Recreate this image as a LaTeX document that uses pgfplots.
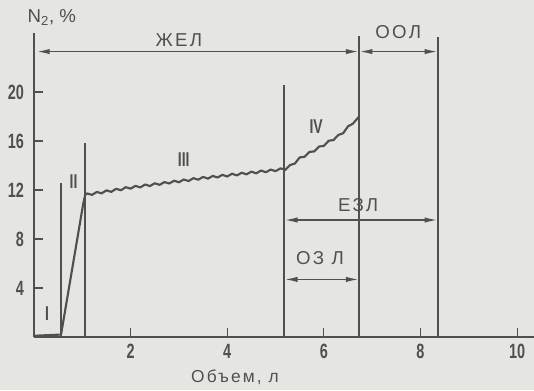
\documentclass[border=0pt]{standalone}
\usepackage{pgfplots}
\pgfplotsset{compat=1.18}
\usepackage{fontspec}
\setmainfont{Liberation Sans}
\newfontfamily\condfont{Liberation Sans}[FakeStretch=0.7]
\newfontfamily\spacedfont{Liberation Sans}[LetterSpace=12]
\usetikzlibrary{arrows.meta,backgrounds}
\definecolor{bg}{RGB}{229,229,226}
\definecolor{ink}{RGB}{80,80,80}
\begin{document}
\begin{tikzpicture}[font=\fontsize{12}{14}\selectfont]
\begin{axis}[
  scale only axis, width=375pt, height=227.85pt,
  xmin=0, xmax=10.35, ymin=0, ymax=24.8,
  axis lines=left, axis line style={-, ink, line width=2.2pt},
  xtick={2,4,6,8,10}, ytick={4,8,12,16,20},
  tick align=inside, major tick length=7pt,
  tick style={ink, line width=0.9pt},
  ticklabel style={font=\condfont\bfseries\fontsize{15.5}{17}\selectfont, text=ink},
  /pgf/number format/assume math mode=true,
  yticklabel style={xshift=-4pt},
  xticklabel style={yshift=-2pt},
  clip=false,
]
\coordinate (O) at (axis cs:0,0);
% nitrogen washout curve
\addplot[ink, line width=1.6pt, line join=round] coordinates {
 (0,0.1) (0.56,0.2) (1.02,10.9) (1.06,11.6)
 (1.1,11.72) (1.2,11.60) (1.3,11.84) (1.4,11.73) (1.5,11.97) (1.6,11.85)
 (1.7,12.10) (1.8,11.98) (1.9,12.23) (2.0,12.11) (2.1,12.34) (2.2,12.21)
 (2.3,12.45) (2.4,12.32) (2.5,12.55) (2.6,12.42) (2.7,12.65) (2.8,12.53)
 (2.9,12.76) (3.0,12.63) (3.1,12.86) (3.2,12.73) (3.3,12.97) (3.4,12.84)
 (3.5,13.07) (3.6,12.93) (3.7,13.15) (3.8,13.02) (3.9,13.24) (4.0,13.10)
 (4.1,13.33) (4.2,13.19) (4.3,13.41) (4.4,13.28) (4.5,13.50) (4.6,13.36)
 (4.7,13.59) (4.8,13.45) (4.9,13.67) (5.0,13.54) (5.1,13.76) (5.18,13.70)
 (5.2,13.63) (5.3,14.04) (5.4,14.16) (5.5,14.66) (5.6,14.71) (5.7,15.11)
 (5.8,15.15) (5.9,15.55) (6.0,15.60) (6.1,16.02) (6.2,16.08) (6.3,16.49)
 (6.4,16.64) (6.5,17.20) (6.6,17.41) (6.73,18.0)
};
% vertical phase / volume lines
\addplot[ink, line width=1.3pt] coordinates {(0.56,0) (0.56,12.6)};
\addplot[ink, line width=1.3pt] coordinates {(1.06,0) (1.06,15.8)};
\addplot[ink, line width=1.3pt] coordinates {(5.18,0) (5.18,20.6)};
\addplot[ink, line width=1.3pt] coordinates {(6.73,0) (6.73,24.6)};
\addplot[ink, line width=1.3pt] coordinates {(8.36,0) (8.36,24.5)};
% arrows
\addplot[ink, line width=1.2pt, {Latex[length=10pt,width=4pt]}-{Latex[length=10pt,width=4pt]}] coordinates {(0.05,23.3) (6.73,23.3)};
\addplot[ink, line width=1.2pt, {Latex[length=10pt,width=4pt]}-{Latex[length=10pt,width=4pt]}] coordinates {(6.73,23.3) (8.36,23.3)};
\addplot[ink, line width=1.2pt, {Latex[length=10pt,width=4pt]}-{Latex[length=10pt,width=4pt]}] coordinates {(5.18,9.55) (8.36,9.55)};
\addplot[ink, line width=1.2pt, {Latex[length=10pt,width=4pt]}-{Latex[length=10pt,width=4pt]}] coordinates {(5.18,4.7) (6.73,4.7)};
% labels
\node[text=ink, font=\spacedfont\fontsize{14}{16}\selectfont] at (axis cs:3.0,24.2) {ЖЕЛ};
\node[text=ink, font=\spacedfont\fontsize{14}{16}\selectfont] at (axis cs:7.54,24.9) {ООЛ};
\node[text=ink, font=\spacedfont\fontsize{14}{16}\selectfont] at (axis cs:6.71,10.8) {ЕЗЛ};
\node[text=ink, font=\spacedfont\fontsize{14}{16}\selectfont] at (axis cs:5.92,6.45) {ОЗ Л};
\node[text=ink, font=\condfont\bfseries\fontsize{15}{17}\selectfont] at (axis cs:0.27,1.9) {I};
\node[text=ink, font=\condfont\bfseries\fontsize{15}{17}\selectfont] at (axis cs:0.82,12.7) {II};
\node[text=ink, font=\condfont\bfseries\fontsize{15}{17}\selectfont] at (axis cs:3.1,14.5) {III};
\node[text=ink, font=\condfont\bfseries\fontsize{15}{17}\selectfont] at (axis cs:5.84,17.2) {IV};
\node[text=ink, anchor=west, font=\fontsize{14}{16}\selectfont] at (axis cs:-0.23,26.1) {N\textsubscript{2}, \%};
\node[text=ink, font=\spacedfont\fontsize{13}{15}\selectfont] at (axis cs:4.16,-3.27) {Объем, л};
\end{axis}
\begin{scope}[on background layer]
\fill[bg] (O) ++(-25.5pt,-39.75pt) rectangle ++(400.5pt,292.5pt);
\end{scope}
\pgfresetboundingbox
\path[use as bounding box] (O) ++(-25.5pt,-39.75pt) rectangle ++(400.5pt,292.5pt);
\end{tikzpicture}
\end{document}
